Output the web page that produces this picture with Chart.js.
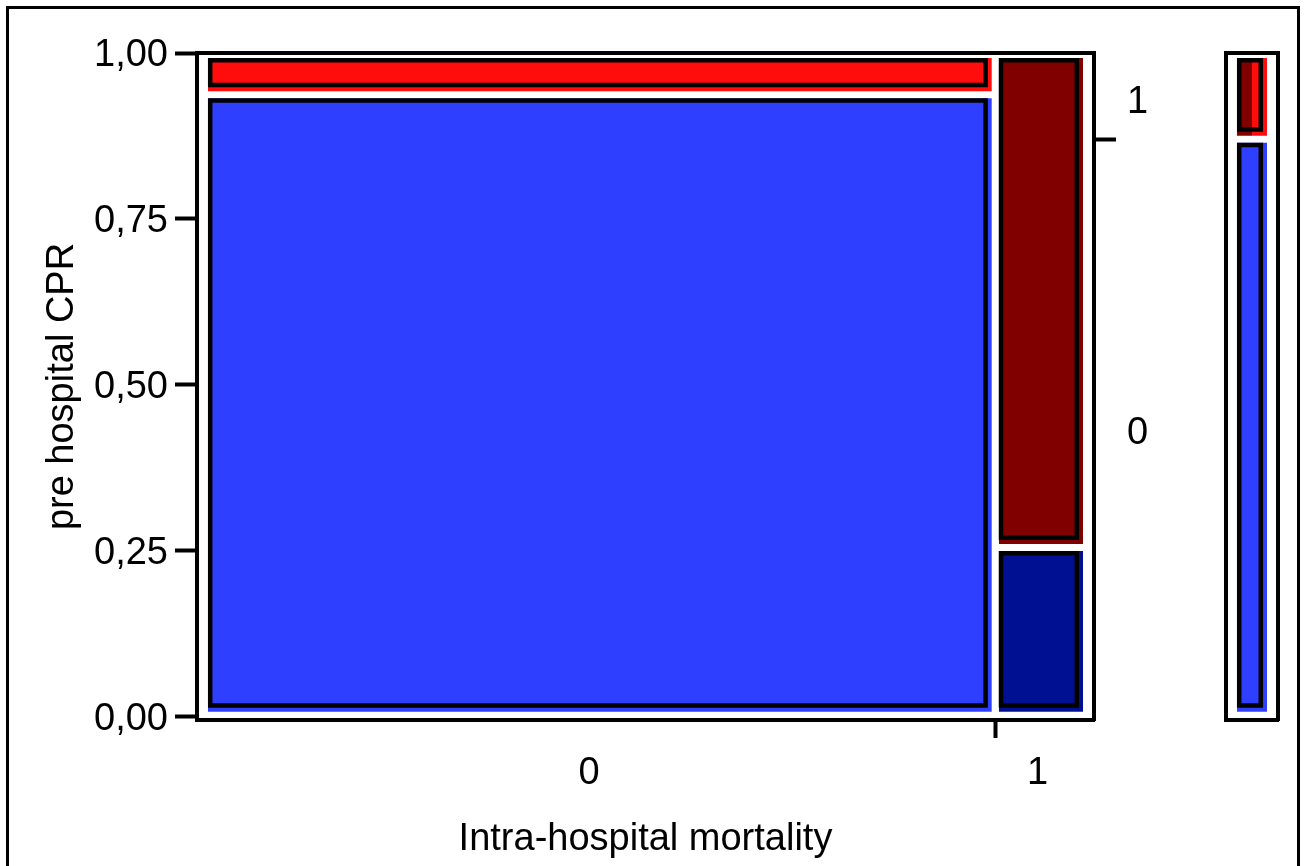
<!DOCTYPE html>
<html>
<head>
<meta charset="utf-8">
<script src="https://cdn.jsdelivr.net/npm/chart.js"></script>
<style>
  body { margin: 0; background: #fff; overflow: hidden; width: 1307px; height: 866px; }
  #frame { position: absolute; left: 6px; top: 6px; width: 1288px; height: 900px; border: 3px solid #000; }
  canvas { position: absolute; left: 0; top: 0; }
</style>
</head>
<body>
<div id="frame"></div>
<canvas id="main" width="1307" height="866"></canvas>
<canvas id="margin" width="1307" height="866"></canvas>
<script>
// mosaic data
const mortality = ['0', '1'];
const mortalityShare = [0.89, 0.11];          // column widths
const cprLevels = ['0', '1'];
const cprYesByMortality = [0.063, 0.745];     // share of CPR=1 inside each column
const cprYesOverall = 0.13;                   // right-hand marginal bar
const deathShareInMargin = [0, 0.5];          // dark (mortality=1) share in each marginal segment
const yTicks = [0, 0.25, 0.5, 0.75, 1];

// colours per mortality level: [cpr 0, cpr 1]
const colors = [['#2e3fff', '#ff0d0d'], ['#001093', '#800000']];

const W = 1307, H = 866;
const LEFT = 197, RIGHT = 1094, TOP = 53, BOTTOM = 720;
const M_LEFT = 1226, M_RIGHT = 1278;
const Y_MIN = -0.005;
const KY = (BOTTOM - TOP) / (1 - Y_MIN);      // px per y unit

const font = { family: '"Liberation Sans", Arial, sans-serif', size: 38 };
Chart.defaults.font.family = font.family;
Chart.defaults.color = '#000';

// shrink a data rect into the drawn cell (gaps between cells, margins to frame)
function inset(r, kx) {
  return {
    x0: r.x0 + (r.x0 <= 0 ? 11 / kx : 3.5 / kx),
    x1: r.x1 - (r.x1 >= 1 ? 11 / kx : 3.5 / kx),
    y0: r.y0 + (r.y0 <= 0 ? 5 / KY : 3.5 / KY),
    y1: r.y1 - (r.y1 >= 1 ? 5 / KY : 3.5 / KY)
  };
}

function fillSet(x0, x1, y0, y1, color) {
  return {
    data: [{ x: x0, y: y1 }, { x: x1, y: y1 }],
    fill: { value: y0 },
    backgroundColor: color,
    borderColor: 'rgba(0,0,0,0)',
    borderWidth: 0,
    pointRadius: 0,
    order: 2
  };
}

function outlineSet(c, kx) {
  const a = c.x0 + 2.2 / kx, b = c.x1 - 6.2 / kx;
  const t = c.y1 - 2.2 / KY, btm = c.y0 + 6.2 / KY;
  return {
    data: [{ x: a, y: t }, { x: b, y: t }, { x: b, y: btm }, { x: a, y: btm }, { x: a, y: t }, { x: b, y: t }],
    fill: false,
    borderColor: '#000',
    borderWidth: 4.5,
    borderJoinStyle: 'miter',
    pointRadius: 0,
    order: 1
  };
}

// main mosaic
const mainSets = [];
let cum = 0;
const xTicks = [];
mortality.forEach((m, i) => {
  const x0 = cum, x1 = cum + mortalityShare[i];
  const split = 1 - cprYesByMortality[i];
  [[0, split], [split, 1]].forEach((seg, j) => {
    const c = inset({ x0: x0, x1: x1, y0: seg[0], y1: seg[1] }, RIGHT - LEFT);
    mainSets.push(fillSet(c.x0, c.x1, c.y0, c.y1, colors[i][j]));
    mainSets.push(outlineSet(c, RIGHT - LEFT));
  });
  xTicks.push({ value: (x0 + x1) / 2, name: m });
  if (i < mortality.length - 1) xTicks.push({ value: x1, name: '', mark: true });
  cum = x1;
});

const mSplit = 1 - cprYesOverall;
const y2Ticks = [
  { value: mSplit / 2, name: cprLevels[0] },
  { value: mSplit, name: '', mark: true },
  { value: (mSplit + 1) / 2, name: cprLevels[1] }
];

const tickMark = c => (c.tick && c.tick.mark) ? '#000' : 'rgba(0,0,0,0)';

new Chart('main', {
  type: 'line',
  data: { datasets: mainSets },
  options: {
    responsive: false,
    animation: false,
    layout: { padding: 0 },
    plugins: { legend: { display: false }, tooltip: { enabled: false } },
    scales: {
      x: {
        type: 'linear', position: 'bottom', min: 0, max: 1,
        afterBuildTicks: s => { s.ticks = xTicks.map(t => ({ ...t })); },
        afterFit: s => { s.height = H - BOTTOM; },
        grid: { drawOnChartArea: false, tickLength: 18, tickWidth: 4, tickColor: tickMark },
        border: { color: '#000', width: 4 },
        ticks: { font: font, color: '#000', padding: 13, maxRotation: 0, autoSkip: false, labelOffset: -7,
                 callback: (v, i, ticks) => ticks[i].name || '' },
        title: { display: true, text: 'Intra-hospital mortality', color: '#000', font: font, padding: { top: 0, bottom: 4 } }
      },
      x2: {
        type: 'linear', position: 'top', min: 0, max: 1,
        afterFit: s => { s.height = TOP; },
        grid: { display: false },
        border: { color: '#000', width: 4 },
        ticks: { display: false }
      },
      y: {
        type: 'linear', position: 'left', min: Y_MIN, max: 1,
        afterBuildTicks: s => { s.ticks = yTicks.map(v => ({ value: v })); },
        afterFit: s => { s.width = LEFT; },
        grid: { drawOnChartArea: false, tickLength: 22, tickWidth: 4, tickColor: '#000' },
        border: { color: '#000', width: 4 },
        ticks: { font: font, color: '#000', padding: 7, autoSkip: false, labelOffset: 3,
                 callback: v => v.toFixed(2).replace('.', ',') },
        title: { display: true, text: 'pre hospital CPR', color: '#000', font: font, padding: { top: 40, bottom: 0 } }
      },
      y2: {
        type: 'linear', position: 'right', min: Y_MIN, max: 1,
        afterBuildTicks: s => { s.ticks = y2Ticks.map(t => ({ ...t })); },
        afterFit: s => { s.width = W - RIGHT; },
        grid: { drawOnChartArea: false, tickLength: 22, tickWidth: 4, tickColor: tickMark },
        border: { color: '#000', width: 4 },
        ticks: { font: font, color: '#000', padding: 11, autoSkip: false, labelOffset: 6,
                 callback: (v, i, ticks) => ticks[i].name || '' }
      }
    }
  }
});

// marginal bar of pre hospital CPR on the right
const mKx = M_RIGHT - M_LEFT;
const marginSets = [];
[[0, mSplit], [mSplit, 1]].forEach((seg, j) => {
  const c = inset({ x0: 0, x1: 1, y0: seg[0], y1: seg[1] }, mKx);
  const xd = c.x0 + deathShareInMargin[j] * (c.x1 - c.x0);
  if (xd > c.x0) marginSets.push(fillSet(c.x0, xd, c.y0, c.y1, colors[1][j]));
  if (c.x1 > xd) marginSets.push(fillSet(xd, c.x1, c.y0, c.y1, colors[0][j]));
  marginSets.push(outlineSet(c, mKx));
});

const hidden = { display: false };
new Chart('margin', {
  type: 'line',
  data: { datasets: marginSets },
  options: {
    responsive: false,
    animation: false,
    layout: { padding: 0 },
    plugins: { legend: { display: false }, tooltip: { enabled: false } },
    scales: {
      x: { type: 'linear', position: 'bottom', min: 0, max: 1, afterFit: s => { s.height = H - BOTTOM; },
           grid: hidden, ticks: hidden, border: { color: '#000', width: 4 } },
      x2: { type: 'linear', position: 'top', min: 0, max: 1, afterFit: s => { s.height = TOP; },
            grid: hidden, ticks: hidden, border: { color: '#000', width: 4 } },
      y: { type: 'linear', position: 'left', min: Y_MIN, max: 1, afterFit: s => { s.width = M_LEFT; },
           grid: hidden, ticks: hidden, border: { color: '#000', width: 4 } },
      y2: { type: 'linear', position: 'right', min: Y_MIN, max: 1, afterFit: s => { s.width = W - M_RIGHT; },
            grid: hidden, ticks: hidden, border: { color: '#000', width: 4 } }
    }
  }
});
</script>
</body>
</html>
